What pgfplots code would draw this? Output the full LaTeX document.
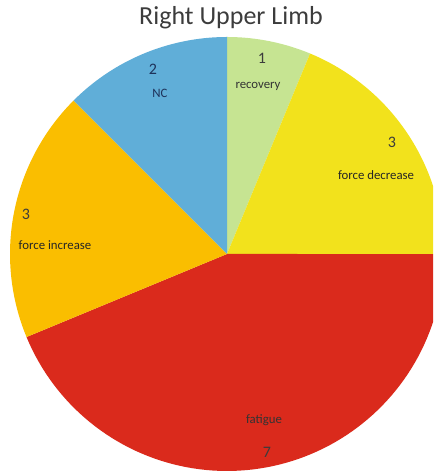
\documentclass[border=0pt]{standalone}
\usepackage{pgfplots}
\pgfplotsset{compat=1.18}
\usepackage{fontspec}
\setmainfont{Carlito}
\definecolor{crec}{RGB}{198,228,146}
\definecolor{cdec}{RGB}{242,226,28}
\definecolor{cfat}{RGB}{218,42,28}
\definecolor{cinc}{RGB}{250,190,0}
\definecolor{cnc}{RGB}{96,174,216}
\definecolor{ctxt}{RGB}{60,60,60}
\definecolor{cnct}{RGB}{30,50,90}
% values: recovery 1, force decrease 3, fatigue 7, force increase 3, NC 2
\def\vRec{1}\def\vDec{3}\def\vFat{7}\def\vInc{3}\def\vNC{2}
\pgfmathsetmacro\total{\vRec+\vDec+\vFat+\vInc+\vNC}
\pgfmathsetmacro\aA{90}
\pgfmathsetmacro\aB{\aA-360*\vRec/\total}
\pgfmathsetmacro\aC{\aB-360*\vDec/\total}
\pgfmathsetmacro\aD{\aC-360*\vFat/\total}
\pgfmathsetmacro\aE{\aD-360*\vInc/\total}
\pgfmathsetmacro\aF{\aE-360*\vNC/\total}
\def\cx{227}\def\cy{219}\def\rr{217}
\begin{document}
\begin{tikzpicture}
\begin{axis}[
  width=324.75pt, height=354.75pt, scale only axis,
  xmin=0, xmax=433, ymin=0, ymax=473,
  hide axis, clip=true,
  samples=90, variable=\t,
]
\addplot[fill=crec, draw=none, domain=\aB:\aA] ({\cx+\rr*cos(t)},{\cy+\rr*sin(t)}) -- (axis cs:\cx,\cy) -- cycle;
\addplot[fill=cdec, draw=none, domain=\aC:\aB] ({\cx+\rr*cos(t)},{\cy+\rr*sin(t)}) -- (axis cs:\cx,\cy) -- cycle;
\addplot[fill=cfat, draw=none, domain=\aD:\aC] ({\cx+\rr*cos(t)},{\cy+\rr*sin(t)}) -- (axis cs:\cx,\cy) -- cycle;
\addplot[fill=cinc, draw=none, domain=\aE:\aD] ({\cx+\rr*cos(t)},{\cy+\rr*sin(t)}) -- (axis cs:\cx,\cy) -- cycle;
\addplot[fill=cnc, draw=none, domain=\aF:\aE] ({\cx+\rr*cos(t)},{\cy+\rr*sin(t)}) -- (axis cs:\cx,\cy) -- cycle;
\node[font=\fontsize{19.5}{22}\selectfont, text=ctxt] at (axis cs:231,455) {Right Upper Limb};
\node[font=\fontsize{12}{14}\selectfont, text=ctxt] at (axis cs:262,415) {1};
\node[font=\fontsize{9.6}{11}\selectfont, text=black!80] at (axis cs:258,387) {recovery};
\node[font=\fontsize{12}{14}\selectfont, text=cnct] at (axis cs:153,404) {2};
\node[font=\fontsize{9.6}{11}\selectfont, text=cnct] at (axis cs:160,380) {NC};
\node[font=\fontsize{12}{14}\selectfont, text=ctxt] at (axis cs:392,331) {3};
\node[font=\fontsize{9.6}{11}\selectfont, text=black!85] at (axis cs:376,298) {force decrease};
\node[font=\fontsize{12}{14}\selectfont, text=ctxt] at (axis cs:26,259) {3};
\node[font=\fontsize{9.6}{11}\selectfont, text=black!85] at (axis cs:55,228) {force increase};
\node[font=\fontsize{9.6}{11}\selectfont, text=black!80] at (axis cs:264,53) {fatigue};
\node[font=\fontsize{12}{14}\selectfont, text=ctxt] at (axis cs:267,21) {7};
\end{axis}
\pgfresetboundingbox
\useasboundingbox (current axis.south west) rectangle (current axis.north east);
\end{tikzpicture}
\end{document}
